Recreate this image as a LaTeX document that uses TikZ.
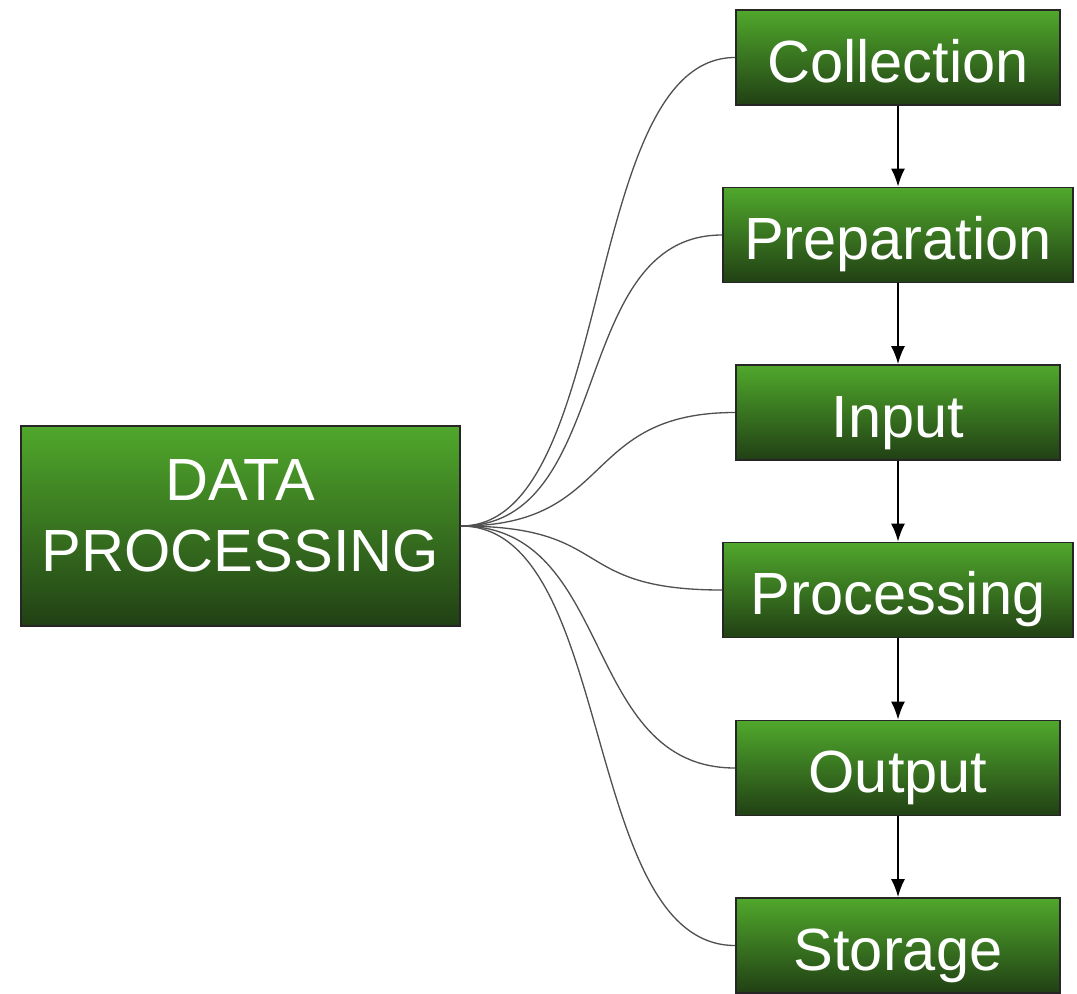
\documentclass[tikz,border=0pt]{standalone}
\usepackage{fontspec}
\setmainfont{Liberation Sans}
\usetikzlibrary{arrows.meta}
\definecolor{leafgreen}{RGB}{80,168,44}
\definecolor{darkgreen}{RGB}{33,64,20}
\definecolor{wire}{RGB}{80,80,80}
\begin{document}
\begin{tikzpicture}[x=0.02cm,y=-0.02cm,
    greenbox/.style={draw=black!85,line width=1.1pt,top color=leafgreen,bottom color=darkgreen,
      text=white,font=\fontsize{33.9}{40.7}\selectfont,inner sep=0pt},
    stage/.style={greenbox,minimum width=6.48cm,minimum height=1.9cm,text height=28pt,text depth=0pt},
    wide/.style={minimum width=7cm},
    link/.style={wire,line width=0.75pt},
    flow/.style={line width=0.9pt,-{Latex[length=3.6mm,width=2.8mm]}}]
  \useasboundingbox (0,0) rectangle (1077,993);
  \node[greenbox,minimum width=8.78cm,minimum height=4cm,align=center,
    text height=65pt,text depth=13pt] (main) at (240.5,526) {DATA\\PROCESSING};
  \node[stage] (collect) at (898,57.5) {Collection};
  \node[stage,wide] (prep) at (898,235) {Preparation};
  \node[stage] (input) at (898,412.5) {Input};
  \node[stage,wide] (proc) at (898,590) {Processing};
  \node[stage] (output) at (898,768) {Output};
  \node[stage] (store) at (898,945.5) {Storage};
  % curved links from the main box
  \foreach \n in {collect,prep,input,proc,output,store}
    \draw[link] (main.east) .. controls +(155,0) and +(-155,0) .. (\n.west);
  % steps in order
  \foreach \a/\b in {collect/prep,prep/input,input/proc,proc/output,output/store}
    \draw[flow] (\a) -- (\b);
\end{tikzpicture}
\end{document}
